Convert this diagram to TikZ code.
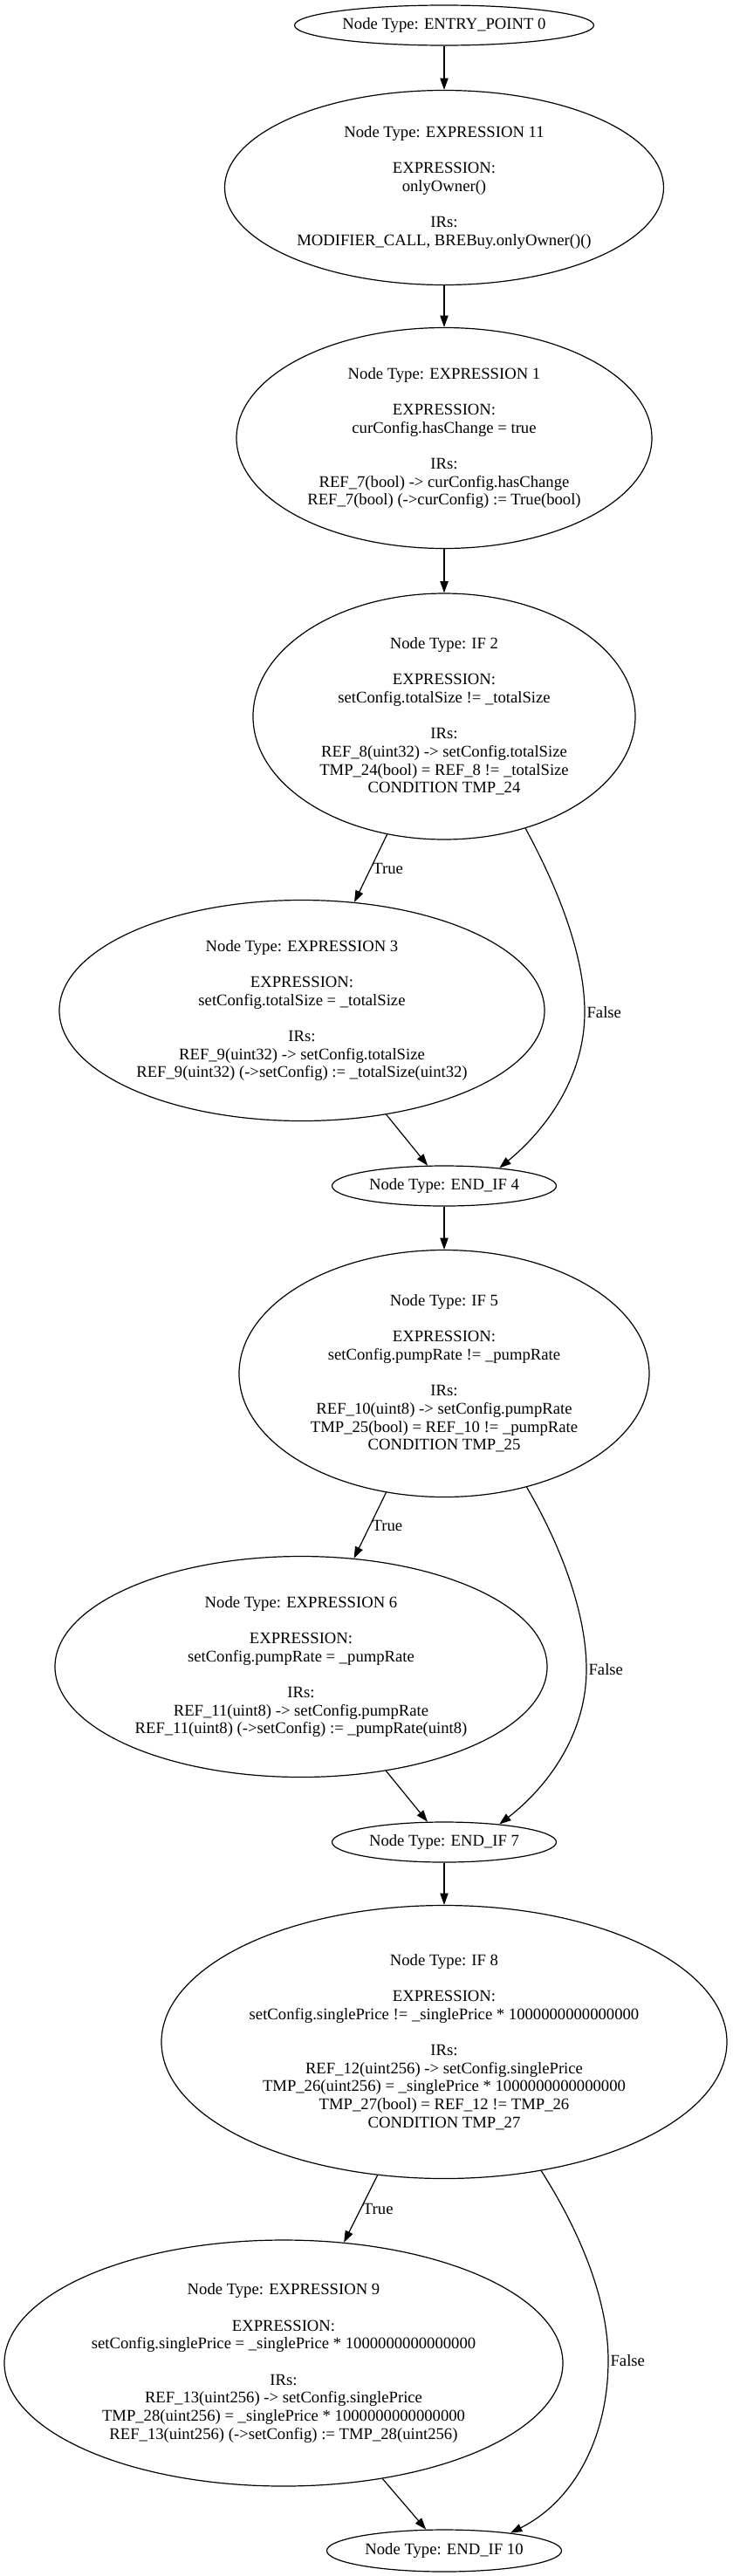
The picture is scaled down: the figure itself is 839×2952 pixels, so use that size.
\documentclass[tikz,border=0pt]{standalone}
\usepackage{fontspec}
\setmainfont{Liberation Serif}
\usetikzlibrary{shapes.geometric,arrows.meta}
\tikzset{
  nd/.style={ellipse, draw, line width=0.9pt, inner sep=0pt, align=center,
    font=\fontsize{14}{15.5}\selectfont},
  edge/.style={draw, line width=0.9pt, -{Triangle[length=10pt,width=7pt]}},
  lbl/.style={font=\fontsize{14}{15.5}\selectfont, inner sep=1.5pt}
}
\begin{document}
\begin{tikzpicture}[x=0.75pt,y=-0.75pt]
\useasboundingbox (0,0) rectangle (839,2952);

\node[nd, minimum width=343*0.75pt, minimum height=46*0.75pt] (entry) at (509,29) {Node Type: ENTRY\_POINT 0};
\node[nd, minimum width=503*0.75pt, minimum height=223*0.75pt] (expr11) at (509,215) {Node Type: EXPRESSION 11\\[15.5pt]EXPRESSION:\\onlyOwner()\\[15.5pt]IRs:\\MODIFIER\_CALL, BREBuy.onlyOwner()()};
\node[nd, minimum width=476*0.75pt, minimum height=253*0.75pt] (expr1) at (509,502) {Node Type: EXPRESSION 1\\[15.5pt]EXPRESSION:\\curConfig.hasChange = true\\[15.5pt]IRs:\\REF\_7(bool) -> curConfig.hasChange\\REF\_7(bool) (->curConfig) := True(bool)};
\node[nd, minimum width=438*0.75pt, minimum height=282*0.75pt] (if2) at (509,821) {Node Type: IF 2\\[15.5pt]EXPRESSION:\\setConfig.totalSize != \_totalSize\\[15.5pt]IRs:\\REF\_8(uint32) -> setConfig.totalSize\\TMP\_24(bool) = REF\_8 != \_totalSize\\CONDITION TMP\_24};
\node[nd, minimum width=556*0.75pt, minimum height=253*0.75pt] (expr3) at (346,1158) {Node Type: EXPRESSION 3\\[15.5pt]EXPRESSION:\\setConfig.totalSize = \_totalSize\\[15.5pt]IRs:\\REF\_9(uint32) -> setConfig.totalSize\\REF\_9(uint32) (->setConfig) := \_totalSize(uint32)};
\node[nd, minimum width=257*0.75pt, minimum height=46*0.75pt] (endif4) at (509,1359) {Node Type: END\_IF 4};
\node[nd, minimum width=470*0.75pt, minimum height=283*0.75pt] (if5) at (509,1574) {Node Type: IF 5\\[15.5pt]EXPRESSION:\\setConfig.pumpRate != \_pumpRate\\[15.5pt]IRs:\\REF\_10(uint8) -> setConfig.pumpRate\\TMP\_25(bool) = REF\_10 != \_pumpRate\\CONDITION TMP\_25};
\node[nd, minimum width=564*0.75pt, minimum height=253*0.75pt] (expr6) at (345,1910) {Node Type: EXPRESSION 6\\[15.5pt]EXPRESSION:\\setConfig.pumpRate = \_pumpRate\\[15.5pt]IRs:\\REF\_11(uint8) -> setConfig.pumpRate\\REF\_11(uint8) (->setConfig) := \_pumpRate(uint8)};
\node[nd, minimum width=257*0.75pt, minimum height=46*0.75pt] (endif7) at (509,2111) {Node Type: END\_IF 7};
\node[nd, minimum width=648*0.75pt, minimum height=313*0.75pt] (if8) at (509,2340) {Node Type: IF 8\\[15.5pt]EXPRESSION:\\setConfig.singlePrice != \_singlePrice * 1000000000000000\\[15.5pt]IRs:\\REF\_12(uint256) -> setConfig.singlePrice\\TMP\_26(uint256) = \_singlePrice * 1000000000000000\\TMP\_27(bool) = REF\_12 != TMP\_26\\CONDITION TMP\_27};
\node[nd, minimum width=640*0.75pt, minimum height=282*0.75pt] (expr9) at (325,2708) {Node Type: EXPRESSION 9\\[15.5pt]EXPRESSION:\\setConfig.singlePrice = \_singlePrice * 1000000000000000\\[15.5pt]IRs:\\REF\_13(uint256) -> setConfig.singlePrice\\TMP\_28(uint256) = \_singlePrice * 1000000000000000\\REF\_13(uint256) (->setConfig) := TMP\_28(uint256)};
\node[nd, minimum width=269*0.75pt, minimum height=48*0.75pt] (endif10) at (509,2923) {Node Type: END\_IF 10};

\draw[edge] (entry) -- (expr11);
\draw[edge] (expr11) -- (expr1);
\draw[edge] (expr1) -- (if2);
\draw[edge] (if2) -- node[lbl, anchor=west] {True} (expr3);
\draw[edge] (expr3) -- (endif4);
\draw[edge] (if2.-54) .. controls (635,1010) and (670,1090) .. (670,1160) node[lbl, anchor=west] {False} .. controls (670,1235) and (625,1295) .. (endif4.18);
\draw[edge] (endif4) -- (if5);
\draw[edge] (if5) -- node[lbl, anchor=west] {True} (expr6);
\draw[edge] (expr6) -- (endif7);
\draw[edge] (if5.-54) .. controls (638,1763) and (672,1843) .. (672,1913) node[lbl, anchor=west] {False} .. controls (672,1988) and (627,2048) .. (endif7.18);
\draw[edge] (endif7) -- (if8);
\draw[edge] (if8) -- node[lbl, anchor=west] {True} (expr9);
\draw[edge] (expr9) -- (endif10);
\draw[edge] (if8.-53) .. controls (660,2550) and (697,2630) .. (697,2705) node[lbl, anchor=west] {False} .. controls (697,2790) and (660,2865) .. (endif10.15);
\end{tikzpicture}
\end{document}
